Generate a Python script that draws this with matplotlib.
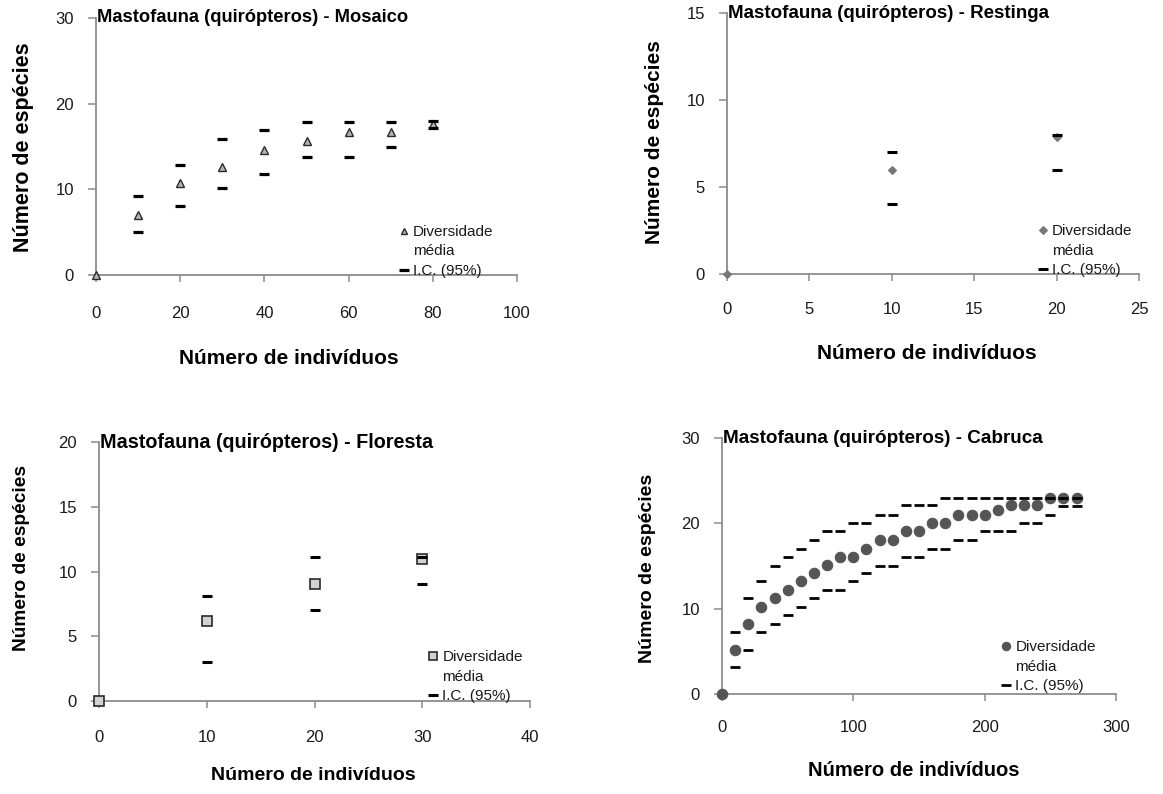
import numpy as np
import matplotlib
matplotlib.use("Agg")
import matplotlib.pyplot as plt
from matplotlib.lines import Line2D

plt.rcParams['font.family'] = ['Liberation Sans', 'DejaVu Sans']

# ---------------- data ----------------
mos_x = [0, 10, 20, 30, 40, 50, 60, 70, 80]
mos_mean = [0, 7.0, 10.7, 12.6, 14.6, 15.7, 16.7, 16.7, 17.6]
mos_upper = [np.nan, 9.2, 12.8, 15.9, 16.9, 17.9, 17.9, 17.9, 18.0]
mos_lower = [np.nan, 5.0, 8.1, 10.2, 11.8, 13.8, 13.8, 14.9, 17.2]

res_x = [0, 10, 20]
res_mean = [0, 6.0, 7.9]
res_upper = [np.nan, 7.0, 8.0]
res_lower = [np.nan, 4.0, 6.0]

flo_x = [0, 10, 20, 30]
flo_mean = [0, 6.2, 9.0, 11.0]
flo_upper = [np.nan, 8.1, 11.1, 11.1]
flo_lower = [np.nan, 3.0, 7.0, 9.0]

cab_x = list(range(0, 280, 10))
cab_mean = [0, 5.2, 8.2, 10.2, 11.2, 12.2, 13.2, 14.2, 15.1, 16.1, 16.1, 17.0,
            18.0, 18.0, 19.1, 19.1, 20.0, 20.0, 21.0, 21.0, 21.0, 21.6, 22.1,
            22.1, 22.1, 23.0, 23.0, 23.0]
cab_upper = [np.nan, 7.3, 11.2, 13.3, 15.0, 16.1, 17.0, 18.0, 19.1, 19.1, 20.0,
             20.0, 21.0, 21.0, 22.1, 22.1, 22.1, 23.0, 23.0, 23.0, 23.0, 23.0,
             23.0, 23.0, 23.0, 23.0, 23.0, 23.0]
cab_lower = [np.nan, 3.2, 5.2, 7.3, 8.2, 9.2, 10.2, 11.2, 12.2, 12.2, 13.3, 14.2,
             15.0, 15.0, 16.1, 16.1, 17.0, 17.0, 18.0, 18.0, 19.1, 19.1, 19.1,
             20.0, 20.0, 21.0, 22.0, 22.0]

titles = ["Mastofauna (quirópteros) - Mosaico",
          "Mastofauna (quirópteros) - Restinga",
          "Mastofauna (quirópteros) - Floresta",
          "Mastofauna (quirópteros) - Cabruca"]
xlabel = "Número de indivíduos"
ylabel = "Número de espécies"
leg_labels = ["Diversidade", "média", "I.C. (95%)"]

W, H = 1163, 794
fig = plt.figure(figsize=(W / 100, H / 100), dpi=100)


def px_axes(l, r, b, t):
    return fig.add_axes([l / W, 1 - b / H, (r - l) / W, (b - t) / H])


panels = [
    dict(rect=(96, 517, 275, 18), x=mos_x, m=mos_mean, u=mos_upper, lo=mos_lower,
         xlim=(0, 100), xt=np.arange(0, 101, 20), ylim=(0, 30), yt=[0, 10, 20, 30],
         marker='^', ms=6, mfc='#b4b4b4', mec='#2a2a2a', mew=1.0,
         leg=(0.72, 0.195), xfs=15, yfs=15.5, tfs=13.2, xpad=17,
         xlc=(0.458, -0.323), ylc=(-0.172, 0.498), dash_ms=7.5, dash_mew=2.3),
    dict(rect=(727, 1139, 274, 13), x=res_x, m=res_mean, u=res_upper, lo=res_lower,
         xlim=(0, 25), xt=np.arange(0, 26, 5), ylim=(0, 15), yt=[0, 5, 10, 15],
         marker='D', ms=4.5, mfc='#787878', mec='#787878', mew=0.8,
         leg=(0.755, 0.19), xfs=15, yfs=15, tfs=13.5, xpad=15,
         xlc=(0.485, -0.303), ylc=(-0.175, 0.506), dash_ms=7.0, dash_mew=2.2),
    dict(rect=(99, 530, 701, 442), x=flo_x, m=flo_mean, u=flo_upper, lo=flo_lower,
         xlim=(0, 40), xt=np.arange(0, 41, 10), ylim=(0, 20), yt=[0, 5, 10, 15, 20],
         marker='s', ms=6.5, mfc='#d2d2d2', mec='#2a2a2a', mew=1.2,
         leg=(0.765, 0.195), xfs=14, yfs=13.8, tfs=14.2, xpad=16,
         xlc=(0.497, -0.286), ylc=(-0.179, 0.552), dash_ms=7.0, dash_mew=2.2),
    dict(rect=(722, 1116, 694, 438), x=cab_x, m=cab_mean, u=cab_upper, lo=cab_lower,
         xlim=(0, 300), xt=np.arange(0, 301, 100), ylim=(0, 30), yt=[0, 10, 20, 30],
         marker='o', ms=7.5, mfc='#555555', mec='#555555', mew=0.8,
         leg=(0.71, 0.21), xfs=14.5, yfs=14, tfs=13.6, xpad=14,
         xlc=(0.487, -0.297), ylc=(-0.188, 0.49), dash_ms=6.8, dash_mew=2.0),
]

for p, title in zip(panels, titles):
    ax = px_axes(*p['rect'])
    ax.plot(p['x'], p['m'], linestyle='none', marker=p['marker'], ms=p['ms'],
            mfc=p['mfc'], mec=p['mec'], mew=p['mew'], clip_on=False, zorder=3)
    ax.plot(p['x'], p['u'], linestyle='none', marker='_', ms=p['dash_ms'],
            mew=p['dash_mew'], color='black', clip_on=False, zorder=4)
    ax.plot(p['x'], p['lo'], linestyle='none', marker='_', ms=p['dash_ms'],
            mew=p['dash_mew'], color='black', clip_on=False, zorder=4)
    ax.set_xlim(*p['xlim'])
    ax.set_ylim(*p['ylim'])
    ax.set_xticks(p['xt'])
    ax.set_yticks(p['yt'])
    for s in ['top', 'right']:
        ax.spines[s].set_visible(False)
    for s in ['left', 'bottom']:
        ax.spines[s].set_color('#8c8c8c')
        ax.spines[s].set_linewidth(1.3)
    ax.tick_params(axis='x', direction='out', length=5, width=1.1, color='#8c8c8c',
                   labelsize=12, pad=p['xpad'], labelcolor='#1a1a1a')
    ax.tick_params(axis='y', direction='out', length=6, width=1.1, color='#8c8c8c',
                   labelsize=12, pad=10, labelcolor='#1a1a1a')
    ax.set_xlabel(xlabel, fontsize=p['xfs'], fontweight='bold')
    ax.set_ylabel(ylabel, fontsize=p['yfs'], fontweight='bold')
    ax.xaxis.set_label_coords(*p['xlc'])
    ax.yaxis.set_label_coords(*p['ylc'])
    ax.xaxis.label.set_va('center')
    ax.yaxis.label.set_va('center')
    ax.text(0.002, 1.0, title, transform=ax.transAxes, ha='left', va='center',
            fontsize=p['tfs'], fontweight='bold', color='black')
    handles = [Line2D([], [], linestyle='none', marker=p['marker'], ms=p['ms'] * 0.8,
                      mfc=p['mfc'], mec=p['mec'], mew=p['mew']),
               Line2D([], [], linestyle='none'),
               Line2D([], [], linestyle='none', marker='_', ms=p['dash_ms'],
                      mew=p['dash_mew'], color='black')]
    leg = ax.legend(handles, leg_labels, loc='upper left', bbox_to_anchor=p['leg'],
                    frameon=False, fontsize=11, handlelength=0.6, handletextpad=0.3,
                    labelspacing=0.36, borderpad=0, borderaxespad=0)
    for t in leg.get_texts():
        t.set_color('#1a1a1a')

fig.savefig("out.png", dpi=100)
